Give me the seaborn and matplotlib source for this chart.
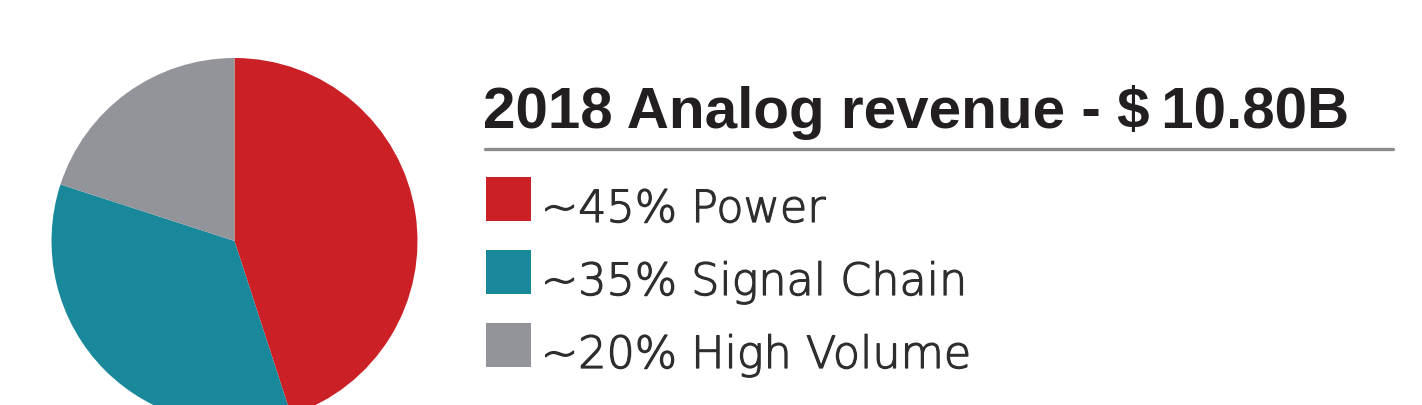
import matplotlib
matplotlib.use("Agg")
import matplotlib.pyplot as plt
import matplotlib.patheffects as pe
from matplotlib.lines import Line2D
from matplotlib.patches import Rectangle
import seaborn as sns

# data
segments = ["Power", "Signal Chain", "High Volume"]
shares = [45, 35, 20]
colors = ["#cc2027", "#19889a", "#939499"]
title = "2018 Analog revenue - $\u200910.80B"

sns.set_theme(style="white")
plt.rcParams['font.family'] = ['Liberation Sans', 'DejaVu Sans']

W, H = 1422, 406
fig = plt.figure(figsize=(W / 100, H / 100), dpi=100)

# pie axes (circle centre ~ (234, 242) px, radius ~183 px)
cx, cy, r = 234.5, 242, 183
ax = fig.add_axes([(cx - r) / W, (H - cy - r) / H, 2 * r / W, 2 * r / H])
wedges, _ = ax.pie(shares, colors=colors, startangle=90, counterclock=False,
                   wedgeprops=dict(linewidth=0))
ax.set_xlim(-1, 1)
ax.set_ylim(-1, 1)
ax.set_aspect('equal')
ax.axis('off')

# title and rule
fig.text(483 / W, 1 - 128 / H, title, fontsize=42, fontweight='bold',
         color='#231f20', ha='left', va='baseline')
fig.add_artist(Line2D([485 / W, 1393 / W], [1 - 150 / H] * 2,
                      transform=fig.transFigure, color='#8c8c8c', lw=2.4))

# legend: square swatch + label, text baseline on the swatch bottom
labels = [f"~{s}% {n}" for s, n in zip(shares, segments)]
top, pitch, sq_w, sq_h = 178, 73, 45, 44
for i, (lab, col) in enumerate(zip(labels, colors)):
    y0 = top + i * pitch
    fig.add_artist(Rectangle((486 / W, 1 - (y0 + sq_h) / H), sq_w / W, sq_h / H,
                             transform=fig.transFigure, facecolor=col, edgecolor='none'))
    fig.text(541 / W, 1 - (y0 + sq_h + 1) / H, lab, fontsize=32,
             family=['DejaVu Sans'], fontweight='light', color='#2e2e2e',
             ha='left', va='baseline',
             path_effects=[pe.withStroke(linewidth=0.9, foreground='#2e2e2e')])

fig.savefig("out.png", dpi=100)
